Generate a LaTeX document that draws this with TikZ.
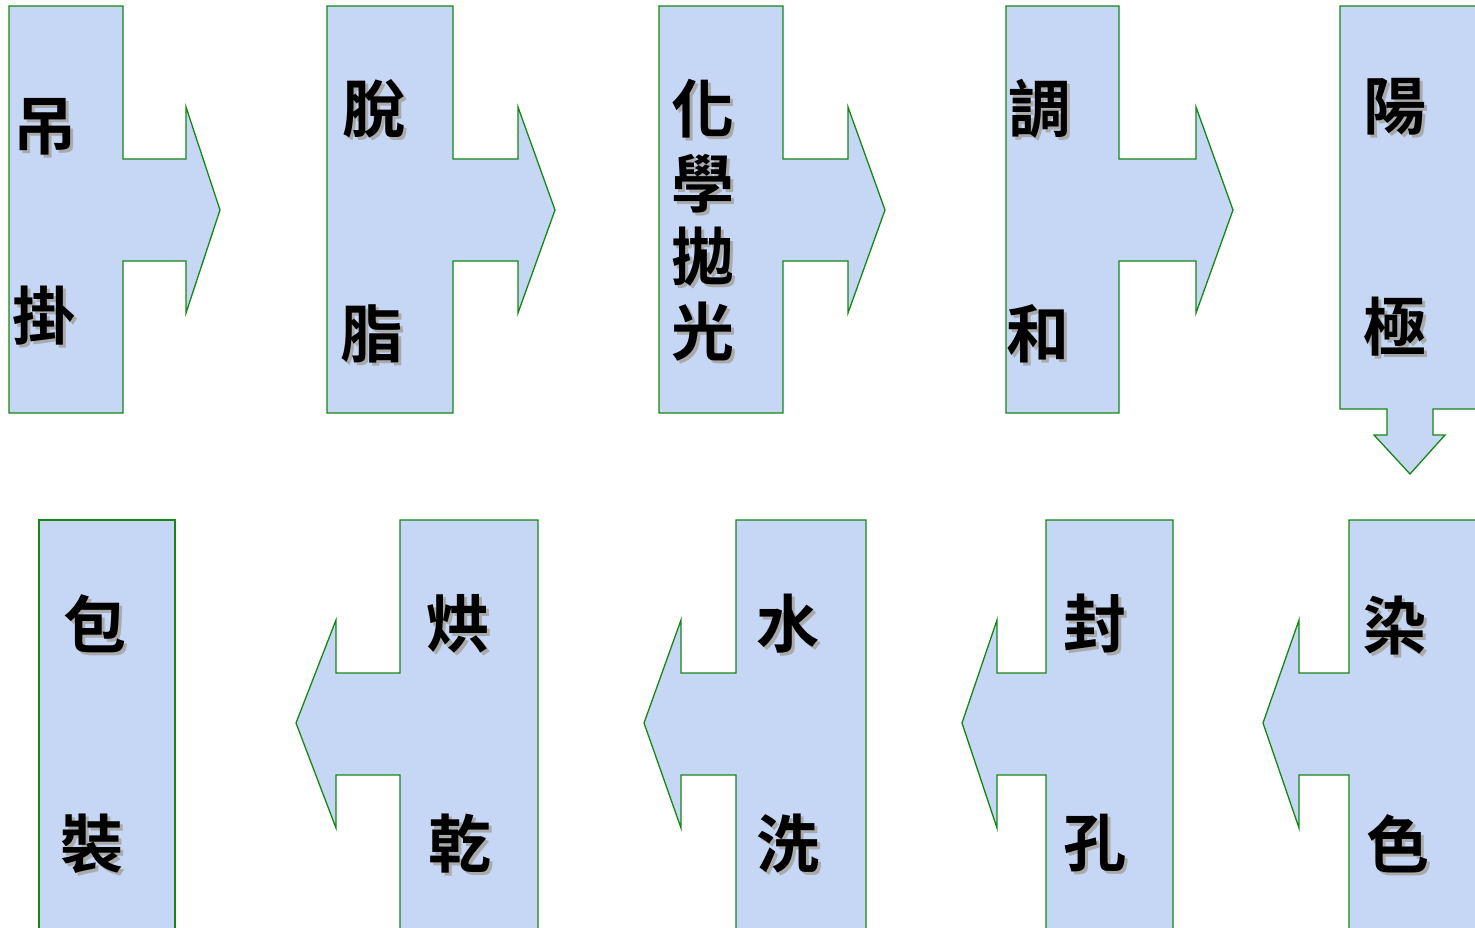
\documentclass[tikz,border=0pt]{standalone}
\usepackage{fontspec}
\newfontfamily\cjk{Noto Sans CJK TC Bold}
\definecolor{boxfill}{RGB}{198,215,245}
\definecolor{boxline}{RGB}{20,135,20}
\definecolor{shadowgray}{RGB}{170,170,170}
\tikzset{
  flowshape/.style={fill=boxfill,draw=boxline,line width=1.3pt,line join=miter},
  lab/.style={font=\cjk\fontsize{63}{63}\selectfont,inner sep=0pt,text=black}
}
% right-pointing shape: left, right of box, shaft end, tip
\newcommand\rshapeLR[4]{%
  \path[flowshape] (#1,6) -- (#2,6) -- (#2,159) -- (#3,159) -- (#3,107) -- (#4,210)
    -- (#3,313) -- (#3,261) -- (#2,261) -- (#2,413) -- (#1,413) -- cycle;}
% left-pointing shape: box left, box right, shaft end, tip
\newcommand\lshapeRL[4]{%
  \path[flowshape] (#2,520) -- (#1,520) -- (#1,673) -- (#3,673) -- (#3,620) -- (#4,723)
    -- (#3,828) -- (#3,775) -- (#1,775) -- (#1,935) -- (#2,935) -- cycle;}
\newcommand\shadowed[1]{\rlap{\hspace{3pt}\raisebox{-3pt}{\textcolor{shadowgray}{#1}}}#1}
\newcommand\chlabel[4]{\node[lab] (#1) at (#2,#3) {\shadowed{#4}};}
\begin{document}
\begin{tikzpicture}[x=1pt,y=-1pt]
\useasboundingbox (0,0) rectangle (1475,928);
\clip (0,0) rectangle (1475,928);
% top row
\rshapeLR{9}{123}{186}{220}
\rshapeLR{327}{453}{518}{555}
\rshapeLR{659}{783}{848}{885}
\rshapeLR{1006}{1119}{1196}{1233}
\path[flowshape] (1340,6) -- (1485,6) -- (1485,409) -- (1433,409) -- (1433,435) -- (1445,435)
  -- (1410,474) -- (1374,435) -- (1387,435) -- (1387,409) -- (1340,409) -- cycle;
% bottom row
\lshapeRL{1349}{1490}{1299}{1263}
\lshapeRL{1046}{1173}{997}{962}
\lshapeRL{736}{866}{681}{644}
\lshapeRL{400}{538}{336}{296}
\path[flowshape] (39,520) rectangle (175,935);
% labels
\chlabel{t1a}{45}{128}{吊}
\chlabel{t1b}{44}{317}{掛}
\chlabel{t2a}{374}{110}{脫}
\chlabel{t2b}{372}{335}{脂}
\chlabel{t3a}{703}{110}{化}
\chlabel{t3b}{703}{185}{學}
\chlabel{t3c}{703}{258}{拋}
\chlabel{t3d}{703}{333}{光}
\chlabel{t4a}{1040}{110}{調}
\chlabel{t4b}{1038}{335}{和}
\chlabel{t5a}{1395}{108}{陽}
\chlabel{t5b}{1395}{328}{極}
\chlabel{b1a}{1395}{627}{染}
\chlabel{b1b}{1398}{845}{色}
\chlabel{b2a}{1095}{625}{封}
\chlabel{b2b}{1095}{845}{孔}
\chlabel{b3a}{788}{625}{水}
\chlabel{b3b}{788}{845}{洗}
\chlabel{b4a}{458}{625}{烘}
\chlabel{b4b}{460}{845}{乾}
\chlabel{b5a}{95}{625}{包}
\chlabel{b5b}{92}{845}{裝}
\end{tikzpicture}
\end{document}
